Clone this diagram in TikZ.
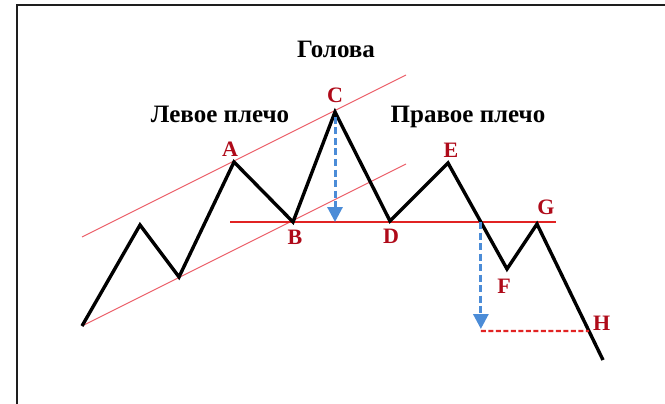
\documentclass[tikz,border=0pt]{standalone}
\usepackage{fontspec}
\setmainfont{Liberation Serif}
\usetikzlibrary{arrows.meta,positioning}
\definecolor{framecol}{RGB}{30,30,30}
\definecolor{chanred}{RGB}{235,95,105}
\definecolor{neckred}{RGB}{225,35,35}
\definecolor{ptred}{RGB}{175,10,25}
\definecolor{targetblue}{RGB}{75,140,215}

\begin{document}
\begin{tikzpicture}[
    x=1pt, y=-1pt,
    price/.style={line width=3.4pt, black, line join=miter},
    chan/.style={line width=1pt, chanred},
    neck/.style={line width=1.3pt, neckred},
    target/.style={-{Triangle[width=15pt,length=15pt]}, dash pattern=on 7pt off 3.5pt, line width=3pt, color=targetblue},
    hdash/.style={dash pattern=on 5pt off 2.5pt, line width=2.2pt, neckred},
    ptlabel/.style={font=\fontsize{22}{22}\selectfont\bfseries, text=ptred, inner sep=0pt},
    partlabel/.style={font=\fontsize{25}{25}\selectfont\bfseries, anchor=base, inner sep=0pt},
]
\useasboundingbox (0,0) rectangle (665,404);

% ============ FRAME ============
\draw[line width=2.8pt, framecol] (17,420) -- (17,5) -- (680,5);

% ============ PRICE POINTS ============
\coordinate (p0) at (82,326);
\coordinate (p1) at (140,225);
\coordinate (p2) at (179,277);
\coordinate (A) at (234,162);
\coordinate (B) at (293,222);
\coordinate (C) at (335,112);
\coordinate (D) at (390,221);
\coordinate (E) at (448,163);
\coordinate (F) at (507,269);
\coordinate (G) at (537,224);
\coordinate (pend) at (603,360);

% ============ CHANNEL AND NECKLINE ============
\coordinate (chup0) at (82,237);
\coordinate (chup1) at (406,75);
\coordinate (chlo0) at (82,326);
\coordinate (chlo1) at (406,164);
\coordinate (nl) at (230,222);
\coordinate (nr) at (556,222);
\draw[chan] (chup0) -- (chup1);
\draw[chan] (chlo0) -- (chlo1);
\draw[neck] (nl) -- (nr);

% ============ PRICE LINE ============
\draw[price] (p0) -- (p1) -- (p2) -- (A) -- (B) -- (C) -- (D) -- (E) -- (F) -- (G) -- (pend);

% ============ TARGETS ============
\coordinate (cneck) at (C |- nl);
\coordinate (brk) at (intersection of E--F and nl--nr);
\coordinate (hl) at (400,331);
\coordinate (hr) at (700,331);
\coordinate (Hx) at (intersection of G--pend and hl--hr);
\coordinate (tgtl) at (brk |- hl);
\draw[target, shorten <=5pt] (C) -- (cneck);
\draw[target, shorten >=2pt] (brk) -- (tgtl);
\draw[hdash] (tgtl) -- (Hx);

% ============ POINT LABELS ============
\node[ptlabel, above=5pt of A, xshift=-4pt] (lA) {A};
\node[ptlabel, below=8pt of B, xshift=2pt] (lB) {B};
\node[ptlabel, above=9pt of C] (lC) {C};
\node[ptlabel, below=8pt of D, xshift=1pt] (lD) {D};
\node[ptlabel, above=5pt of E, xshift=3pt] (lE) {E};
\node[ptlabel, below=10pt of F, xshift=-3pt] (lF) {F};
\node[ptlabel, above=9pt of G, xshift=9pt] (lG) {G};
\node[ptlabel, right=4pt of Hx, yshift=8pt] (lH) {H};

% ============ PATTERN LABELS ============
\node[partlabel] (head) at (336,58) {Голова};
\node[partlabel] (lshoulder) at (220,123) {Левое плечо};
\node[partlabel] (rshoulder) at (468,123) {Правое плечо};

\end{tikzpicture}
\end{document}
